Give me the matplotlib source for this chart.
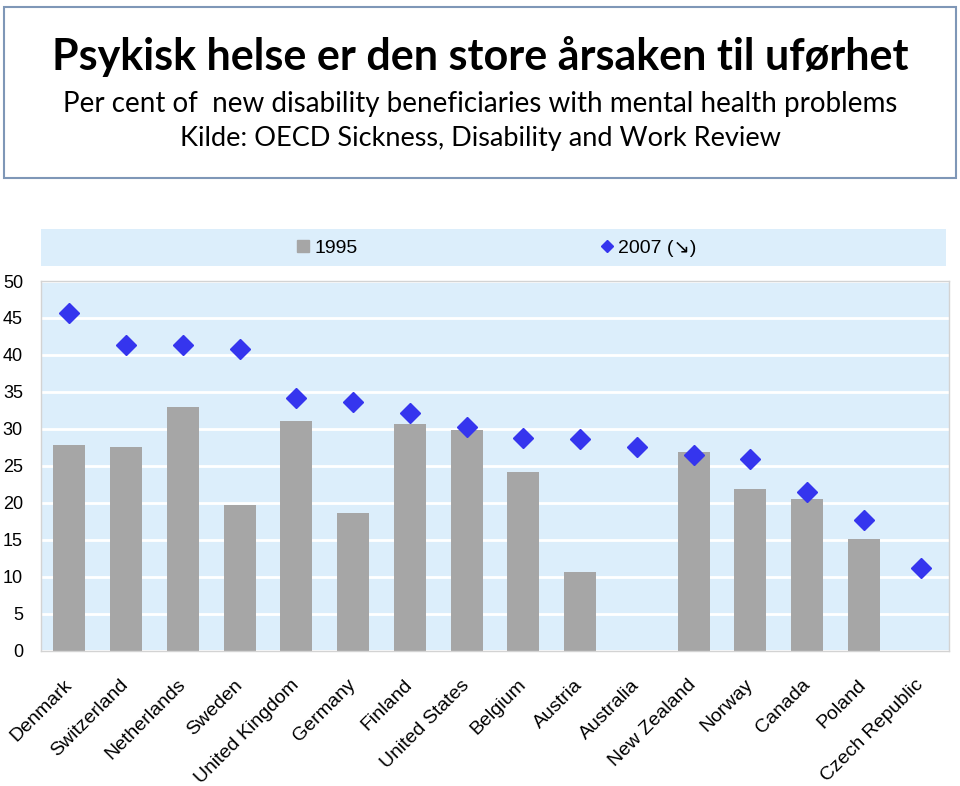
import matplotlib
matplotlib.use('Agg')
import matplotlib.pyplot as plt
from matplotlib.patches import Rectangle
from matplotlib.lines import Line2D
import numpy as np

# data
countries = ['Denmark', 'Switzerland', 'Netherlands', 'Sweden', 'United Kingdom',
             'Germany', 'Finland', 'United States', 'Belgium', 'Austria',
             'Australia', 'New Zealand', 'Norway', 'Canada', 'Poland', 'Czech Republic']
share_1995 = [27.8, 27.6, 33.0, 19.7, 31.1, 18.6, 30.7, 29.9, 24.2, 10.6,
              np.nan, 26.8, 21.9, 20.5, 15.1, np.nan]
share_2007 = [45.7, 41.3, 41.3, 40.8, 34.2, 33.6, 32.2, 30.3, 28.8, 28.6,
              27.5, 26.4, 25.9, 21.5, 17.7, 11.1]
y_ticks = [0, 5, 10, 15, 20, 25, 30, 35, 40, 45, 50]

W, H = 960, 786
BG = '#DCEEFB'
BAR = '#A6A6A6'
BLUE = '#3535EE'

fig = plt.figure(figsize=(W / 100, H / 100), dpi=100)

# title box
fig.add_artist(Rectangle((4 / W, 1 - 178 / H), 952 / W, 171 / H, transform=fig.transFigure,
                         facecolor='white', edgecolor='#7F97B7', lw=1.5))
fig.text(480 / W, 1 - 70 / H, 'Psykisk helse er den store årsaken til uførhet',
         ha='center', va='baseline', fontsize=31, fontweight='bold', family='Lato')
fig.text(480 / W, 1 - 112 / H, 'Per cent of  new disability beneficiaries with mental health problems',
         ha='center', va='baseline', fontsize=20, family='Lato')
fig.text(480 / W, 1 - 146 / H, 'Kilde: OECD Sickness, Disability and Work Review',
         ha='center', va='baseline', fontsize=19.5, family='Lato')

# legend strip
fig.add_artist(Rectangle((41 / W, 1 - 266 / H), 905 / W, 37 / H, transform=fig.transFigure,
                         facecolor=BG, edgecolor='none'))

ax = fig.add_axes([41 / W, 1 - 650.5 / H, 908 / W, 369.5 / H])
ax.set_facecolor(BG)
x = np.arange(len(countries))
ax.bar(x, share_1995, width=0.565, color=BAR, zorder=2)
ax.plot(x, share_2007, linestyle='none', marker='D', markersize=10.5,
        color=BLUE, markeredgecolor=BLUE, zorder=3)

ax.set_xlim(-0.5, len(countries) - 0.5)
ax.set_ylim(0, 50)
ax.set_yticks(y_ticks)
ax.yaxis.grid(True, color='white', lw=2, zorder=1)
ax.set_axisbelow(True)
for s in ax.spines.values():
    s.set_color('#D3D3D3')
    s.set_linewidth(1)

ax.set_xticks(x)
ax.set_xticklabels(countries, rotation=45, ha='right', va='center',
                   rotation_mode='anchor', fontsize=14, family='Liberation Sans')
ax.tick_params(axis='x', length=0, pad=23)
ax.tick_params(axis='y', length=0, pad=13, labelsize=13)
for lbl in ax.get_yticklabels():
    lbl.set_family('Liberation Sans')

handles = [Line2D([], [], linestyle='none', marker='s', markersize=8, color=BAR),
           Line2D([], [], linestyle='none', marker='D', markersize=6, color=BLUE)]
fig.legend(handles, ['1995', '2007 (↘)'], ncol=2, loc='center',
           bbox_to_anchor=(497 / W, 1 - 248 / H), frameon=False,
           prop={'family': ['Liberation Sans', 'DejaVu Sans'], 'size': 14},
           handlelength=0.6, handletextpad=0.3, columnspacing=12.5)

fig.savefig('out.png', dpi=100)
